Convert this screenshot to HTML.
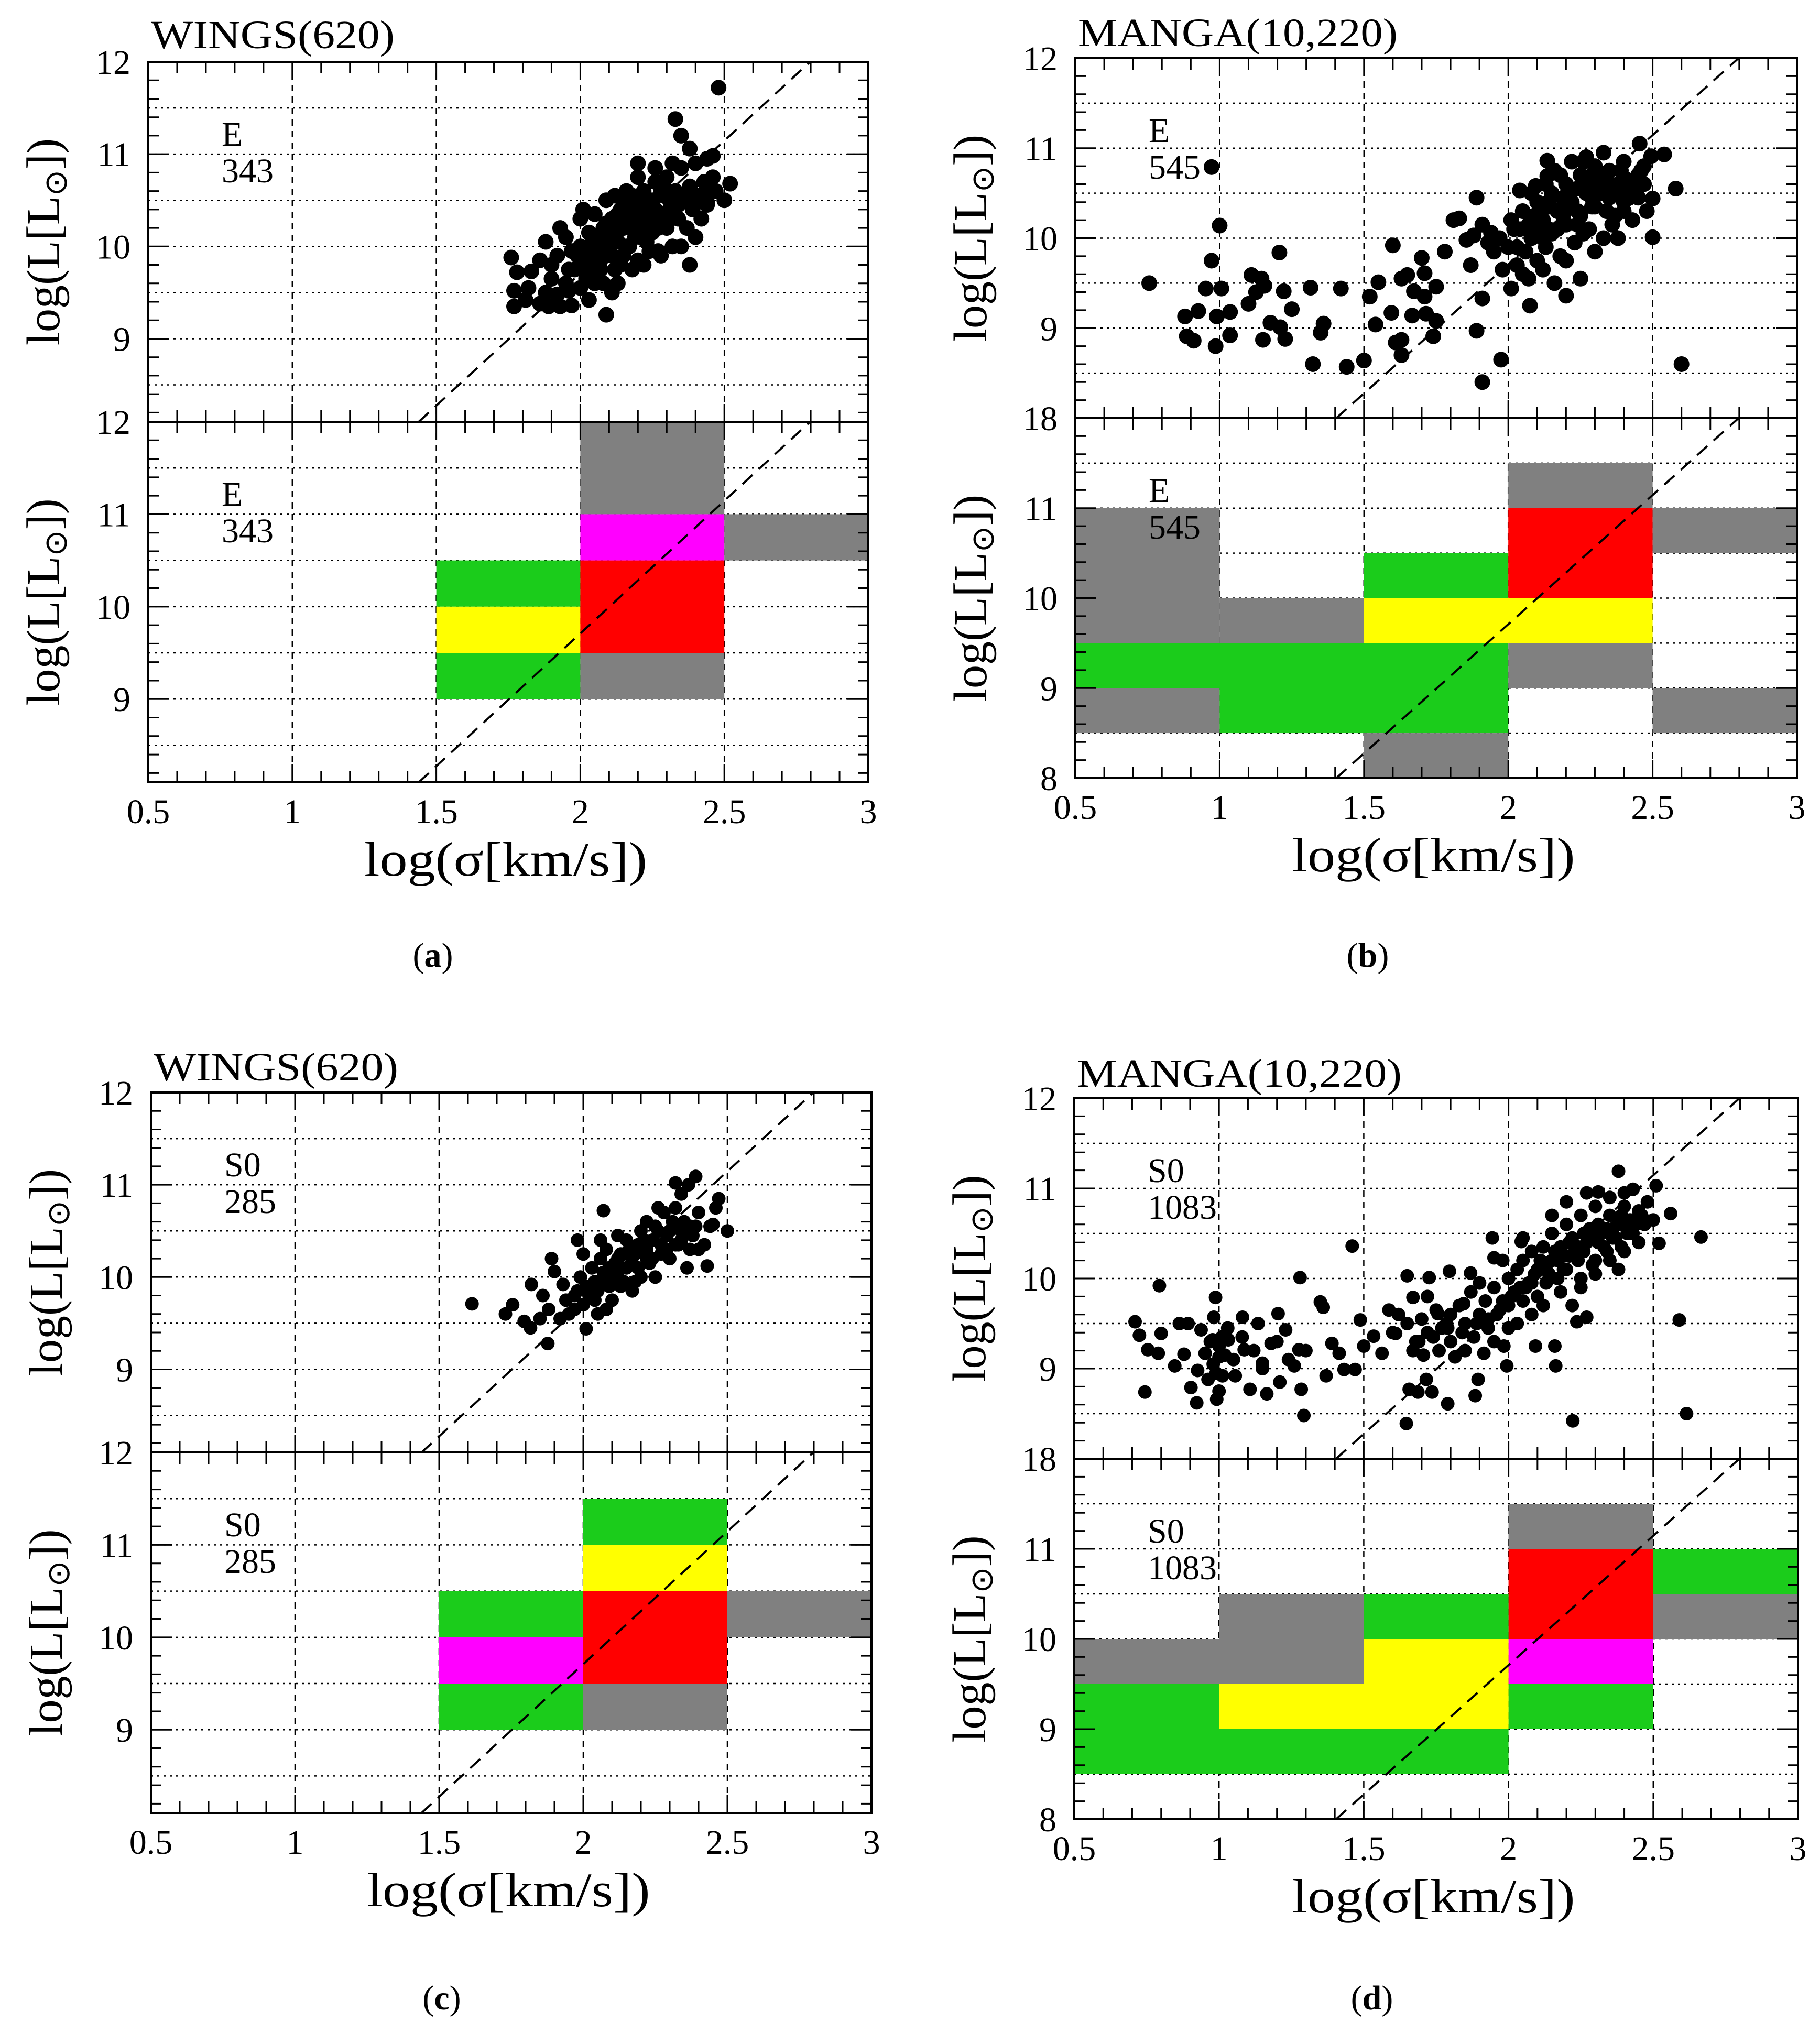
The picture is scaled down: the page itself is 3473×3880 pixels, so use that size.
<!DOCTYPE html>
<html><head><meta charset="utf-8"><style>
html,body{margin:0;padding:0;background:#fff;}
svg{display:block;}
text{font-family:"Liberation Serif",serif;fill:#000;}
</style></head><body>
<svg id="fig" xmlns="http://www.w3.org/2000/svg" width="3473" height="3880" viewBox="0 0 3473 3880"></svg>
<script>
// ---- data ----
const xTicks = ["0.5","1","1.5","2","2.5","3"];
const xTickVals = [0.5,1,1.5,2,2.5,3];
const fitSlope = 2.87;
const fitIntercept = 3.97;

const aX = [2.48,2.33,2.35,2.38,2.2,2.44,2.46,2.52,2.5,2.44,1.76,1.78,1.83,1.77,1.77,1.81,1.86,1.89,1.93,1.97,2.03,2.09,2.11,1.82,1.88,1.92,1.96,2.0,
1.9,1.92,1.95,1.97,1.98,2.0,2.0,2.02,2.03,2.04,2.05,2.06,2.07,2.08,2.09,2.1,2.1,2.11,2.12,2.13,2.14,2.15,2.15,2.16,2.17,2.18,2.19,2.2,2.2,2.21,2.22,2.23,2.24,2.25,2.25,2.26,2.27,2.28,2.29,2.3,2.3,2.31,2.32,2.33,2.34,2.35,2.36,2.37,2.38,2.39,2.4,2.41,2.42,2.43,2.45,2.46,2.12,2.18,2.05,2.0,1.95,1.9,1.86,1.88,1.93,2.13,2.22,2.28,2.35,2.4,2.38,2.26,2.2,2.15,2.08,2.01,2.24,2.32,2.44,2.47,
2.06,2.09,2.12,2.14,2.17,2.19,2.21,2.23,2.26,2.28,2.31,2.33,2.36,2.04,2.07,2.11,2.16,2.19,2.24,2.29,2.34,2.02,2.08,2.13,2.18,2.23,2.27,2.31,2.37,2.42,1.99,2.03,2.1,2.16,2.21,2.3,1.96,2.02,2.07,2.14];
const aY = [11.72,11.38,11.2,11.06,10.9,10.95,10.98,10.68,10.5,10.48,9.88,9.72,9.73,9.52,9.35,9.42,9.38,9.35,9.35,9.36,9.42,9.26,9.5,9.55,9.5,9.48,9.52,9.85,
9.8,9.9,10.1,9.95,9.75,10.0,10.3,9.9,10.15,9.7,10.35,10.0,9.85,10.2,10.5,9.95,10.1,10.3,9.75,10.05,10.4,10.2,9.9,10.6,10.0,10.3,10.15,10.45,9.85,10.25,10.6,10.05,10.35,10.5,10.15,10.7,9.95,10.3,10.55,10.2,10.75,10.4,10.0,10.6,10.3,10.85,10.5,10.2,10.65,10.4,10.9,10.55,10.3,10.7,10.6,10.75,10.55,9.75,9.6,9.55,9.6,9.65,9.85,10.05,10.2,9.6,9.8,9.9,10.0,10.1,9.8,10.85,10.75,10.45,9.6,10.4,9.95,10.9,10.45,10.6,
10.1,10.25,10.15,10.3,10.45,10.35,10.5,10.45,10.4,10.6,10.5,10.45,10.55,9.85,10.1,9.9,10.0,10.1,10.2,10.35,10.45,9.8,9.95,10.35,10.55,10.3,10.2,10.35,10.5,10.5,9.9,10.0,10.2,10.3,10.1,10.6,9.75,9.65,9.75,9.8];

const bX = [0.756,0.972,1.0,0.972,0.952,1.006,0.88,0.926,0.99,1.036,0.886,0.91,0.986,1.036,1.11,1.145,1.155,1.126,1.1,1.207,1.222,1.25,1.176,1.21,1.15,1.227,1.315,1.36,1.35,1.323,1.42,1.44,1.5,1.52,1.54,1.55,1.6,1.595,1.61,1.63,1.63,1.63,1.65,1.667,1.673,1.7,1.71,1.71,1.715,1.74,1.75,1.75,1.78,1.81,1.83,1.855,1.87,1.88,1.89,1.91,1.91,1.89,1.91,1.94,1.975,2.01,2.075,2.2,2.135,2.135,2.095,2.04,2.5,2.54,2.58,2.6,2.455,2.495,2.5,
2.0,2.02,2.03,2.05,2.06,2.08,2.1,2.1,2.12,2.13,2.15,2.15,2.17,2.18,2.2,2.2,2.22,2.23,2.25,2.25,2.27,2.28,2.3,2.3,2.32,2.33,2.35,2.35,2.37,2.38,2.4,2.4,2.42,2.43,2.45,2.45,2.47,2.48,2.18,2.22,2.27,2.13,2.08,2.05,2.12,2.2,2.3,2.38,2.25,2.16,2.07,1.98,1.95,2.33,2.4,2.28,2.17,2.1,2.26,2.36,
2.11,2.14,2.19,2.21,2.24,2.29,2.31,2.34,2.39,2.41,2.44,2.46,2.09,2.14,2.19,2.24,2.29,2.34,2.39,2.44,2.04,2.09,2.14,2.19,2.24,2.29,2.34,2.16,2.26,2.36,2.01,1.97,1.93,2.03,2.07,2.12,2.21,2.32,2.42,2.47];
const bY = [9.5,10.79,10.14,9.75,9.44,9.44,9.13,9.19,9.13,9.18,8.91,8.86,8.8,8.92,9.59,9.55,9.47,9.4,9.27,9.84,9.41,9.21,9.06,9.01,8.87,8.88,9.45,9.05,8.95,8.6,9.44,8.57,8.64,9.35,9.04,9.51,9.92,9.17,8.84,8.87,8.7,9.55,9.59,9.14,9.41,9.78,9.61,9.35,9.16,8.91,9.08,9.46,9.85,10.2,10.22,9.98,9.7,10.03,10.45,10.15,9.33,8.97,8.4,10.06,8.65,9.44,9.25,9.36,10.86,10.69,10.58,10.53,10.01,10.93,10.55,8.6,11.05,10.91,10.44,
9.9,10.1,9.7,10.3,9.85,10.0,10.4,9.75,10.2,9.9,10.5,10.05,10.3,9.8,10.6,10.15,10.4,9.95,10.7,10.25,10.5,10.1,10.8,10.35,10.6,10.0,10.45,10.75,10.25,10.6,10.4,10.85,10.55,10.2,10.7,10.45,10.6,10.3,10.7,10.85,10.9,10.6,10.5,9.6,9.65,9.75,9.85,10.0,9.55,9.5,9.55,9.65,9.85,10.95,10.3,10.65,10.1,10.15,10.05,10.15,
10.3,10.1,10.35,10.5,10.55,10.45,10.6,10.7,10.5,10.65,10.55,10.75,10.05,10.4,10.25,10.3,10.35,10.55,10.75,10.6,10.1,10.25,10.35,10.45,10.15,10.7,10.3,10.75,10.85,10.55,10.2,10.0,9.95,9.9,10.15,10.0,10.55,10.5,10.45,10.8];

const cX = [1.614,1.73,1.755,1.795,1.817,1.877,1.82,1.86,1.89,1.9,1.93,2.07,2.32,2.39,2.365,2.43,2.5,2.47,2.45,2.01,1.98,
1.95,1.97,1.99,2.0,2.02,2.03,2.05,2.05,2.07,2.08,2.1,2.1,2.12,2.13,2.15,2.15,2.17,2.18,2.2,2.2,2.22,2.23,2.25,2.25,2.27,2.28,2.3,2.3,2.32,2.33,2.35,2.36,2.38,2.4,2.42,2.44,2.46,1.92,1.88,1.85,2.08,2.18,2.26,2.12,2.22,2.34,2.4,2.0,2.06,
2.04,2.06,2.09,2.11,2.14,2.16,2.19,2.21,2.24,2.26,2.29,2.31,2.34,2.37,2.39,2.04,2.09,2.14,2.19,2.24,2.29,2.34,1.98,2.02,2.07,2.12,2.17,2.22,2.27,2.32,2.37,1.94,1.97,2.01,2.13,2.2];
const cY = [9.71,9.6,9.7,9.52,9.45,9.28,9.92,9.8,10.2,10.06,9.92,10.72,11.02,11.09,11.0,10.12,10.5,10.85,10.57,9.44,10.4,
9.6,9.8,10.0,9.7,9.9,10.1,9.6,9.85,10.05,10.3,9.75,10.0,10.2,9.9,10.4,10.1,9.85,10.25,10.5,10.0,10.3,10.15,10.55,10.0,10.35,10.7,10.2,10.5,10.75,10.35,10.6,10.1,10.45,10.7,10.35,10.55,10.75,9.55,9.65,9.55,9.65,9.95,10.75,10.45,10.6,10.9,10.3,10.25,10.4,
9.95,10.2,10.1,10.15,10.25,10.3,10.35,10.4,10.4,10.5,10.45,10.6,10.5,10.55,10.55,9.75,9.9,9.95,10.1,10.2,10.3,10.4,9.85,9.8,9.95,10.05,10.15,10.2,10.25,10.35,10.3,9.75,9.65,9.9,10.25,10.35];

const dX = [0.71,0.725,0.744,0.794,0.8,0.79,0.754,0.847,0.863,0.879,0.893,0.923,0.903,0.926,0.938,0.952,0.962,0.978,0.988,0.992,0.982,1.0,1.012,1.032,1.056,1.081,1.087,1.107,1.135,1.15,1.165,1.18,1.204,1.21,1.23,1.26,1.276,1.284,1.293,1.28,1.35,1.36,1.37,1.39,1.415,1.432,1.46,1.47,1.488,1.5,1.534,1.563,1.587,1.61,1.65,1.647,1.657,1.67,1.687,1.706,1.716,1.726,1.736,1.756,1.786,1.79,1.796,1.815,1.845,1.869,1.885,1.895,1.915,1.944,1.95,1.984,1.994,2.044,2.093,2.16,2.163,2.222,2.236,2.27,2.59,2.615,2.665,2.52,2.56,2.51,2.38,2.43,2.31,
1.6,1.65,1.68,1.7,1.72,1.75,1.77,1.8,1.8,1.83,1.85,1.87,1.88,1.9,1.92,1.93,1.95,1.96,1.98,2.0,2.0,2.02,2.03,2.05,2.05,2.07,2.08,2.1,2.1,2.12,2.13,2.15,2.15,2.17,2.18,2.2,2.2,2.22,2.23,2.25,2.25,2.27,2.28,2.3,2.3,2.32,2.33,2.35,2.35,2.37,2.38,2.4,2.4,2.42,2.43,2.45,2.47,2.48,2.12,2.18,2.25,2.3,2.35,2.08,2.22,2.15,2.2,2.27,2.05,1.98,1.9,1.85,1.76,1.67,1.62,1.72,1.95,2.03,2.4,2.45,2.5,2.38,2.0,
2.11,2.14,2.16,2.19,2.21,2.24,2.26,2.29,2.31,2.34,2.36,2.39,2.41,2.44,2.46,2.06,2.09,2.13,2.17,2.21,2.26,2.31,2.36,2.41,2.01,2.04,2.08,2.14,2.19,2.24,2.29,2.34,2.39,1.97,1.93,1.89,1.84,1.79,1.74,1.69,
0.98,1.0,1.01,0.99,1.02,1.0,1.03,0.97,1.05,1.08,1.12,1.15,1.2,1.24,1.3];
const dY = [9.52,9.37,8.74,9.92,9.39,9.17,9.21,9.03,9.5,9.16,9.5,8.62,8.79,8.98,9.43,9.17,8.88,9.32,9.79,8.66,9.57,9.13,8.92,9.32,8.92,9.57,9.21,8.77,9.5,9.06,8.72,9.28,9.61,8.85,9.43,9.03,9.21,8.77,8.48,10.01,9.74,9.68,8.92,9.28,9.17,8.99,10.36,8.99,9.54,9.25,9.36,9.17,9.65,9.39,10.03,8.39,8.77,9.79,8.74,9.15,8.88,10.01,8.74,9.61,9.5,8.61,10.08,9.13,9.72,10.06,8.7,8.88,9.17,10.45,10.23,9.25,9.03,10.41,9.25,9.25,9.03,8.42,9.52,9.57,9.54,8.5,10.46,10.39,10.72,11.03,11.19,10.99,10.96,
9.4,9.5,9.3,9.55,9.4,9.65,9.45,9.6,9.3,9.7,9.5,9.85,9.35,9.6,9.75,9.45,9.9,9.6,9.75,10.0,9.7,9.85,10.1,9.75,10.2,9.95,10.3,9.8,10.1,10.35,9.95,10.2,10.5,10.0,10.35,10.6,10.1,10.45,10.25,10.7,10.0,10.4,10.55,10.8,10.2,10.5,10.35,10.7,10.9,10.45,10.6,10.8,10.3,10.65,10.5,10.75,10.6,10.85,9.7,9.85,9.9,10.05,10.2,9.6,9.7,10.7,10.85,10.95,10.45,10.2,9.95,9.2,9.2,9.2,9.6,9.8,9.3,9.5,10.95,10.4,10.65,10.1,9.45,
10.2,10.05,10.3,10.25,10.4,10.35,10.5,10.45,10.6,10.55,10.55,10.7,10.5,10.6,10.7,9.9,10.05,10.1,10.2,10.25,10.3,10.4,10.45,10.55,9.8,9.9,9.95,10.0,10.1,10.2,10.15,10.3,10.35,9.65,9.55,9.5,9.4,9.45,9.35,9.3,
9.05,9.25,9.35,8.95,9.15,8.75,9.45,9.3,9.1,9.35,9.2,9.0,9.3,9.1,9.2];

// bins: [s0, s1, L0, L1, colour]
const aBins = [[2,2.5,11,12,"gray"],[2,2.5,10.5,11,"magenta"],[2.5,3,10.5,11,"gray"],[1.5,2,10,10.5,"green"],[1.5,2,9.5,10,"yellow"],[1.5,2,9,9.5,"green"],[2,2.5,9.5,10.5,"red"],[2,2.5,9,9.5,"gray"]];
const bBins = [[0.5,1,9.5,11,"gray"],[1,1.5,9.5,10,"gray"],[1.5,2,10,10.5,"green"],[1.5,2.5,9.5,10,"yellow"],[2,2.5,10,11,"red"],[2,2.5,11,11.5,"gray"],[2.5,3,10.5,11,"gray"],[0.5,2,9,9.5,"green"],[2,2.5,9,9.5,"gray"],[0.5,1,8.5,9,"gray"],[1,2,8.5,9,"green"],[1.5,2,8,8.5,"gray"],[2.5,3,8.5,9,"gray"]];
const cBins = [[2,2.5,11,11.5,"green"],[2,2.5,10.5,11,"yellow"],[2,2.5,9.5,10.5,"red"],[2,2.5,9,9.5,"gray"],[1.5,2,10,10.5,"green"],[1.5,2,9.5,10,"magenta"],[1.5,2,9,9.5,"green"],[2.5,3,10,10.5,"gray"]];
const dBins = [[2,2.5,11,11.5,"gray"],[2,2.5,10,11,"red"],[2,2.5,9.5,10,"magenta"],[2,2.5,9,9.5,"green"],[2.5,3,10.5,11,"green"],[2.5,3,10,10.5,"gray"],[0.5,1,9.5,10,"gray"],[1,1.5,9.5,10.5,"gray"],[1.5,2,10,10.5,"green"],[1.5,2,9,10,"yellow"],[1,1.5,9,9.5,"yellow"],[0.5,1,8.5,9.5,"green"],[1,2,8.5,9,"green"]];

const COL = {gray:"#808080",magenta:"#ff00ff",red:"#ff0000",green:"#1bcc1b",yellow:"#ffff00"};
const NS = "http://www.w3.org/2000/svg";
const svg = document.getElementById("fig");

function el(tag, attrs, parent){
  const e = document.createElementNS(NS, tag);
  for (const k in attrs) e.setAttribute(k, attrs[k]);
  (parent||svg).appendChild(e);
  return e;
}

function drawPanel(P){
  const g = el("g", {});
  
  
  const xs = v => P.left + (v-0.5)/(2.5)*(P.right-P.left);
  const halves = [[P.top, P.mid],[P.mid, P.bottom]];
  halves.forEach((h, hi) => {
    const y0 = h[0], y1 = h[1];
    const ys = v => y0 + (12 - v)/(12 - P.ymin)*(y1 - y0);
    const hg = el("g", {}, g);
    
    
    [1,1.5,2,2.5].forEach(v=>{
      const l = el("line",{x1:xs(v),x2:xs(v),y1:y0,y2:y1,stroke:"#000","stroke-width":2.5,"stroke-dasharray":"12,10"},hg);
      
      
    });
    for (let v=8.5; v<12; v+=0.5){
      if (v<=P.ymin) continue;
      const l = el("line",{x1:P.left,x2:P.right,y1:ys(v),y2:ys(v),stroke:"#000","stroke-width":2.5,"stroke-dasharray":"4,8"},hg);
      
      
    }
    if (hi===0){
      const pts = el("g",{},hg);
      
      
      for (let i=0;i<P.xs.length;i++){
        const c = el("circle",{cx:xs(P.xs[i]),cy:ys(P.ys[i]),r:P.r,fill:"#000"},pts);
        
        
      }
    } else {
      P.bins.forEach(b=>{
        const r = el("rect",{x:xs(b[0]),y:ys(b[3]),width:xs(b[1])-xs(b[0]),height:ys(b[2])-ys(b[3]),fill:COL[b[4]]},hg);
        
        
      });
    }
    const sA = (P.ymin - fitIntercept)/fitSlope, sB = (12 - fitIntercept)/fitSlope;
    const fl = el("line",{x1:xs(sA),y1:ys(P.ymin),x2:xs(sB),y2:ys(12),stroke:"#000","stroke-width":4,"stroke-dasharray":"26,16"},hg);
    
    
    for (let k=0; ; k++){
      const v = 12 - 0.2*k;
      if (v < P.ymin - 1e-6) break;
      const maj = Math.abs(v-Math.round(v))<1e-6;
      const len = maj?40:20;
      el("line",{x1:P.left,x2:P.left+len,y1:ys(v),y2:ys(v),stroke:"#000","stroke-width":3},hg);
      el("line",{x1:P.right,x2:P.right-len,y1:ys(v),y2:ys(v),stroke:"#000","stroke-width":3},hg);
    }
    for (let k=0;k<=25;k++){
      const v = 0.5+0.1*k;
      const maj = k%5===0;
      const len = maj?34:22;
      el("line",{x1:xs(v),x2:xs(v),y1:y0,y2:y0+len,stroke:"#000","stroke-width":3},hg);
      el("line",{x1:xs(v),x2:xs(v),y1:y1,y2:y1-len,stroke:"#000","stroke-width":3},hg);
    }
    [11,10,9].forEach(v=>{
      const t = el("text",{x:P.left-34,y:ys(v)+23,"font-size":66,"text-anchor":"end"},hg);
      t.textContent = String(v);
      
      
    });
    const t1 = el("text",{x:P.left+140,y:y0+160,"font-size":66},hg);
    t1.textContent = P.type;
    
    
    const t2 = el("text",{x:P.left+140,y:y0+230,"font-size":66},hg);
    t2.textContent = P.count;
    
    
    const cy = (y0+y1)/2;
    const yt = el("text",{x:0,y:0,"font-size":90,"text-anchor":"middle",transform:`translate(${P.left-170},${cy}) rotate(-90)`},hg);
    yt.innerHTML = 'log(L[L<tspan font-size="60" dy="14">⊙</tspan><tspan dy="-14">])</tspan>';
    
    
  });
  el("rect",{x:P.left,y:P.top,width:P.right-P.left,height:P.bottom-P.top,fill:"none",stroke:"#000","stroke-width":4},g);
  el("line",{x1:P.left,x2:P.right,y1:P.mid,y2:P.mid,stroke:"#000","stroke-width":4},g);
  const topL = el("text",{x:P.left-34,y:P.top+23,"font-size":66,"text-anchor":"end"},g);
  topL.textContent = "12";
  
  
  const midL = el("text",{x:P.left-34,y:P.mid+23,"font-size":66,"text-anchor":"end"},g);
  midL.textContent = P.ymin===8 ? "18" : "12";
  
  
  if (P.ymin===8){
    const bL = el("text",{x:P.left-34,y:P.bottom+23,"font-size":66,"text-anchor":"end"},g);
    bL.textContent = "8";
    
    
  }
  xTickVals.forEach((v,i)=>{
    const t = el("text",{x:xs(v),y:P.bottom+78,"font-size":66,"text-anchor":"middle"},g);
    t.textContent = xTicks[i];
    
    
  });
  const xt = el("text",{x:(P.left+P.right)/2-5,y:P.bottom+178,"font-size":92,"text-anchor":"middle",textLength:540,lengthAdjust:"spacingAndGlyphs"},g);
  xt.textContent = "log(σ[km/s])";
  
  
  const ti = el("text",{x:P.left+5,y:P.titleY,"font-size":76,textLength:P.titleW,lengthAdjust:"spacingAndGlyphs"},g);
  ti.textContent = P.title;
  
  
  const cap = el("text",{x:P.capX,y:P.capY,"font-size":66,"text-anchor":"middle"},g);
  cap.innerHTML = '(<tspan font-weight="bold">'+P.cap+'</tspan>)';
  
  
}

drawPanel({name:"panel-a",left:283,right:1657,top:118,mid:805,bottom:1493,ymin:8.1,xs:aX,ys:aY,r:15,bins:aBins,type:"E",count:"343",title:"WINGS(620)",titleY:92,titleW:465,capX:826,capY:1845,cap:"a"});
drawPanel({name:"panel-b",left:2052,right:3429,top:111,mid:798,bottom:1485,ymin:8,xs:bX,ys:bY,r:15,bins:bBins,type:"E",count:"545",title:"MANGA(10,220)",titleY:88,titleW:610,capX:2610,capY:1845,cap:"b"});
drawPanel({name:"panel-c",left:288,right:1663,top:2085,mid:2772,bottom:3460,ymin:8.1,xs:cX,ys:cY,r:13,bins:cBins,type:"S0",count:"285",title:"WINGS(620)",titleY:2062,titleW:467,capX:843,capY:3835,cap:"c"});
drawPanel({name:"panel-d",left:2050,right:3431,top:2096,mid:2784,bottom:3472,ymin:8,xs:dX,ys:dY,r:13,bins:dBins,type:"S0",count:"1083",title:"MANGA(10,220)",titleY:2074,titleW:620,capX:2618,capY:3835,cap:"d"});
</script>
</body></html>
